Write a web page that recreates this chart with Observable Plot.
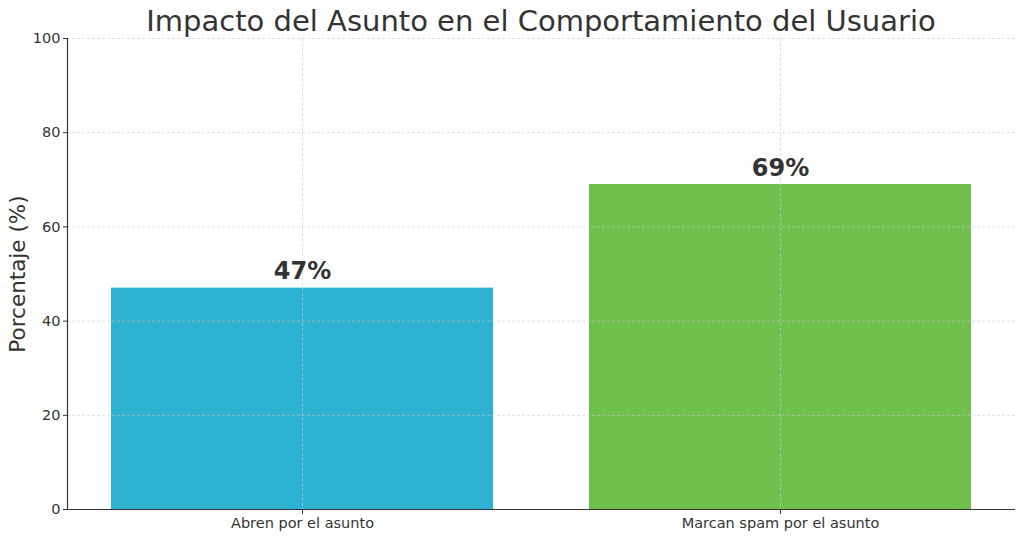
<!DOCTYPE html>
<html>
<head>
<meta charset="utf-8">
<script src="https://cdn.jsdelivr.net/npm/d3@7"></script>
<script src="https://cdn.jsdelivr.net/npm/@observablehq/plot@0.6"></script>
<style>
  html, body { margin: 0; padding: 0; background: #fff; }
  body { width: 1024px; height: 537px; overflow: hidden; font-family: "DejaVu Sans", sans-serif; }
  #title { height: 30px; line-height: 42px; text-align: center; font-size: 29px; color: #333; padding-left: 58px; white-space: nowrap; }
  #chart svg { display: block; }
</style>
</head>
<body>
<div id="title">Impacto del Asunto en el Comportamiento del Usuario</div>
<div id="chart"></div>
<script>
const categories = ["Abren por el asunto", "Marcan spam por el asunto"];
const values = [47, 69];
const colors = ["#2eb2d2", "#6ebf4b"];
const yTicks = [0, 20, 40, 60, 80, 100];
const yLabel = "Porcentaje (%)";

const data = categories.map((c, i) => ({category: c, value: values[i], color: colors[i], label: values[i] + "%"}));

const chart = Plot.plot({
  width: 1024,
  height: 507,
  marginLeft: 67,
  marginRight: 9,
  marginTop: 8,
  marginBottom: 28,
  style: {fontFamily: "DejaVu Sans, sans-serif", fontSize: "14.5px", color: "#333", background: "#fff"},
  x: {domain: categories, paddingInner: 0.2, paddingOuter: 0.09, label: null},
  y: {domain: [0, 100], label: null},
  marks: [
    Plot.barY(data, {x: "category", y: "value", fill: "color"}),
    Plot.gridY(yTicks, {stroke: "#ccc", strokeOpacity: 0.6, strokeDasharray: "3,2"}),
    Plot.gridX(categories, {stroke: "#ccc", strokeOpacity: 0.6, strokeDasharray: "3,2"}),
    Plot.axisY(yTicks, {tickSize: 4, tickPadding: 3, fontSize: 14.5, label: null, stroke: "#333"}),
    Plot.axisX({tickSize: 5, tickPadding: 3, fontSize: 14.5, label: null, stroke: "#333"}),
    Plot.frame({anchor: "left", stroke: "#333", strokeWidth: 1.2}),
    Plot.ruleY([0], {stroke: "#333", strokeWidth: 1.2}),
    Plot.text(data, {x: "category", y: "value", text: "label", lineAnchor: "bottom", dy: -9, fontSize: 24, fontWeight: "bold", fill: "#333"}),
    Plot.text([yLabel], {frameAnchor: "left", textAnchor: "middle", rotate: -90, dx: -49, fontSize: 21.5, fill: "#333"})
  ]
});
document.getElementById("chart").appendChild(chart);
</script>
</body>
</html>
